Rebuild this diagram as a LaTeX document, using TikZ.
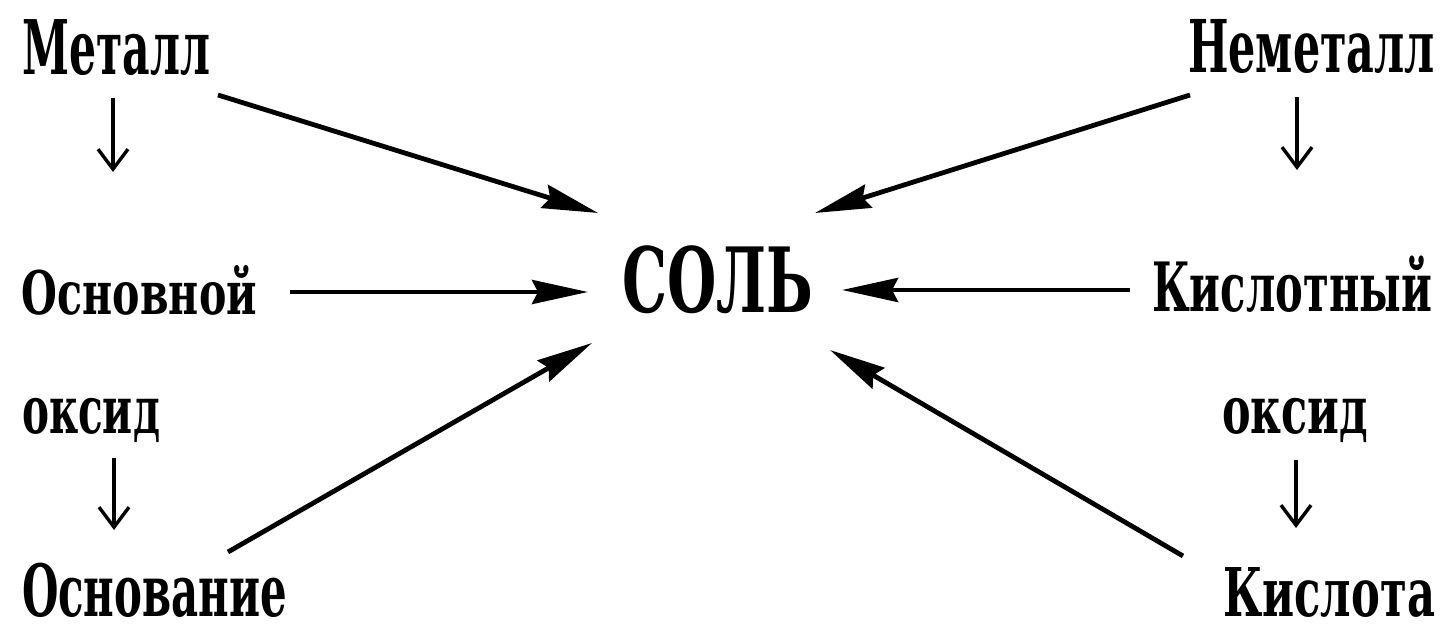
\documentclass[tikz,border=0pt]{standalone}
\usepackage{fontspec}
\usepackage{graphicx}
\usetikzlibrary{arrows.meta}
\newfontfamily\rf{DejaVu Serif}
\newlength\wl
\newcommand\fw[2]{\settowidth{\wl}{#2}\scalebox{\fpeval{#1/\wl}}[1]{#2}}
\tikzset{
  word/.style={inner sep=0pt, outer sep=0pt, anchor=base west},
  big/.style={line width=2.4pt, -{Stealth[length=28pt,width=12pt,inset=3pt]}},
  small/.style={line width=1.7pt, -{Straight Barb[length=10pt,width=15pt,line width=1.7pt]}},
}
\begin{document}
\begin{tikzpicture}[x=0.5pt,y=-0.5pt]
\useasboundingbox (0,0) rectangle (1445,630);
% words
\node[word,font=\rf\bfseries\fontsize{37.7}{40}\selectfont] (met) at (22,75) {\fw{94}{Металл}};
\node[word,font=\rf\bfseries\fontsize{36.4}{40}\selectfont] (nem) at (1188,73) {\fw{123.5}{Неметалл}};
\node[word,font=\rf\bfseries\fontsize{30}{34}\selectfont] (osn) at (22,315) {\fw{117.5}{Основной}};
\node[word,font=\rf\bfseries\fontsize{34}{38}\selectfont] (kis) at (1152,312) {\fw{140}{Кислотный}};
\node[word,font=\rf\bfseries\fontsize{45}{50}\selectfont] (sol) at (622,313) {\fw{95.5}{СОЛЬ}};
\node[word,font=\rf\bfseries\fontsize{33}{36}\selectfont] (oksL) at (22,433) {\fw{69}{оксид}};
\node[word,font=\rf\bfseries\fontsize{33}{36}\selectfont] (oksR) at (1222,433) {\fw{73}{оксид}};
\node[word,font=\rf\bfseries\fontsize{36}{40}\selectfont] (osv) at (22,616) {\fw{132.5}{Основание}};
\node[word,font=\rf\bfseries\fontsize{33.6}{38}\selectfont] (kta) at (1223,616) {\fw{106}{Кислота}};
% big arrows to СОЛЬ
\draw[big] ([shift={(8,20)}]met.base east) -- ([shift={(-24,-100)}]sol.base west);
\draw[big] ([shift={(2,22)}]nem.base west) -- ([shift={(2,-100)}]sol.base east);
\draw[big] ([shift={(33,-23)}]osn.base east) -- ([shift={(-34,-21)}]sol.base west);
\draw[big] ([shift={(-22,-22)}]kis.base west) -- ([shift={(29,-23)}]sol.base east);
\draw[big] ([shift={(-59,-64)}]osv.base east) -- ([shift={(-30,30)}]sol.base west);
\draw[big] ([shift={(-40,-60)}]kta.base west) -- ([shift={(17,37)}]sol.base east);
% small down arrows
\draw[small] ([shift={(91,23)}]met.base west) -- ([shift={(91,-143)}]osn.base west);
\draw[small] ([shift={(92,25)}]oksL.base west) -- ([shift={(92,-86)}]osv.base west);
\draw[small] ([shift={(109,24)}]nem.base west) -- ([shift={(145,-142)}]kis.base west);
\draw[small] ([shift={(74,27)}]oksR.base west) -- ([shift={(73,-88)}]kta.base west);
\end{tikzpicture}
\end{document}
